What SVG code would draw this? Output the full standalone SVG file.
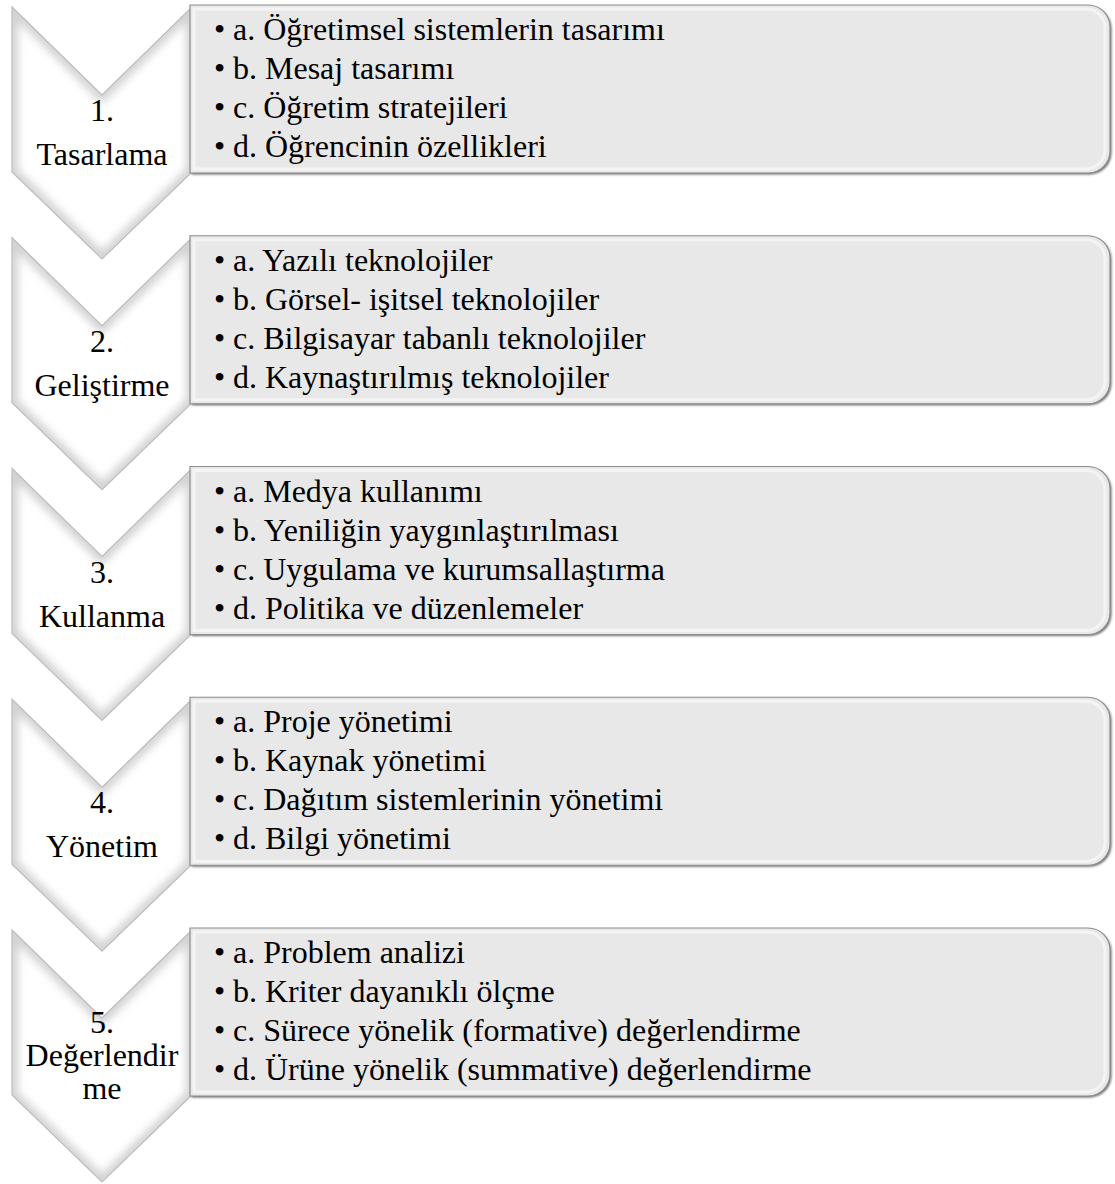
<svg xmlns="http://www.w3.org/2000/svg" width="1115" height="1184" viewBox="0 0 1115 1184">
  <style>
    .lbl { font-family: "Liberation Serif", "Times New Roman", serif; font-size: 32px; fill: #000; text-anchor: middle; }
    .item { font-family: "Liberation Serif", "Times New Roman", serif; font-size: 32px; fill: #000; }
    .chev { fill: #ffffff; }
    .chevEdge { fill: none; stroke: #bdbdbd; stroke-width: 1.2; }
    .chevShade { fill: none; stroke: #d2d2d2; stroke-width: 12; filter: url(#blur4); }
    .boxShadow { fill: #6f6f6f; filter: url(#blur1); }
    .box { fill: #e8e8e8; stroke: #8e8e8e; stroke-width: 1.2; }
    .boxHi { fill: none; stroke: #f4f4f4; stroke-width: 3; }
  </style>
  <defs>
    <filter id="blur4" x="-20%" y="-20%" width="140%" height="140%">
      <feGaussianBlur stdDeviation="4"/>
    </filter>
    <filter id="blur1" x="-5%" y="-10%" width="110%" height="120%">
      <feGaussianBlur stdDeviation="1.2"/>
    </filter>
    <polygon id="chevShape" points="12,7 102,95 192,7 192,172 102,259 12,172"/>
    <clipPath id="chevClip">
      <polygon points="12,7 102,95 192,7 192,172 102,259 12,172"/>
    </clipPath>
    <path id="boxShape" d="M190,5 H1088 A22,22 0 0 1 1110,27 V151 A22,22 0 0 1 1088,173 H190 Z"/>
    <path id="boxInner" d="M194,9 H1086 A19,19 0 0 1 1105,28 V150 A19,19 0 0 1 1086,169 H194 Z"/>
    <g id="chevron">
      <use href="#chevShape" class="chev"/>
      <g clip-path="url(#chevClip)">
        <use href="#chevShape" class="chevShade"/>
      </g>
      <use href="#chevShape" class="chevEdge"/>
    </g>
    <g id="box">
      <use href="#boxShape" class="boxShadow" transform="translate(1.5,1.5)"/>
      <use href="#boxShape" class="box"/>
      <use href="#boxInner" class="boxHi"/>
    </g>
  </defs>

  <g id="connectors"></g>

  <g id="step1" transform="translate(0,0)">
    <use href="#chevron"/>
    <text class="lbl" x="102" y="121">1.</text>
    <text class="lbl" x="102" y="165">Tasarlama</text>
    <use href="#box"/>
    <text class="item" x="214" y="40">•</text><text class="item" x="233" y="40">a. Öğretimsel sistemlerin tasarımı</text>
    <text class="item" x="214" y="79">•</text><text class="item" x="233" y="79">b. Mesaj tasarımı</text>
    <text class="item" x="214" y="118">•</text><text class="item" x="233" y="118">c. Öğretim stratejileri</text>
    <text class="item" x="214" y="157">•</text><text class="item" x="233" y="157">d. Öğrencinin özellikleri</text>
  </g>

  <g id="step2" transform="translate(0,230.75)">
    <use href="#chevron"/>
    <text class="lbl" x="102" y="121">2.</text>
    <text class="lbl" x="102" y="165">Geliştirme</text>
    <use href="#box"/>
    <text class="item" x="214" y="40">•</text><text class="item" x="233" y="40">a. Yazılı teknolojiler</text>
    <text class="item" x="214" y="79">•</text><text class="item" x="233" y="79">b. Görsel- işitsel teknolojiler</text>
    <text class="item" x="214" y="118">•</text><text class="item" x="233" y="118">c. Bilgisayar tabanlı teknolojiler</text>
    <text class="item" x="214" y="157">•</text><text class="item" x="233" y="157">d. Kaynaştırılmış teknolojiler</text>
  </g>

  <g id="step3" transform="translate(0,461.5)">
    <use href="#chevron"/>
    <text class="lbl" x="102" y="121">3.</text>
    <text class="lbl" x="102" y="165">Kullanma</text>
    <use href="#box"/>
    <text class="item" x="214" y="40">•</text><text class="item" x="233" y="40">a. Medya kullanımı</text>
    <text class="item" x="214" y="79">•</text><text class="item" x="233" y="79">b. Yeniliğin yaygınlaştırılması</text>
    <text class="item" x="214" y="118">•</text><text class="item" x="233" y="118">c. Uygulama ve kurumsallaştırma</text>
    <text class="item" x="214" y="157">•</text><text class="item" x="233" y="157">d. Politika ve düzenlemeler</text>
  </g>

  <g id="step4" transform="translate(0,692.25)">
    <use href="#chevron"/>
    <text class="lbl" x="102" y="121">4.</text>
    <text class="lbl" x="102" y="165">Yönetim</text>
    <use href="#box"/>
    <text class="item" x="214" y="40">•</text><text class="item" x="233" y="40">a. Proje yönetimi</text>
    <text class="item" x="214" y="79">•</text><text class="item" x="233" y="79">b. Kaynak yönetimi</text>
    <text class="item" x="214" y="118">•</text><text class="item" x="233" y="118">c. Dağıtım sistemlerinin yönetimi</text>
    <text class="item" x="214" y="157">•</text><text class="item" x="233" y="157">d. Bilgi yönetimi</text>
  </g>

  <g id="step5" transform="translate(0,923)">
    <use href="#chevron"/>
    <text class="lbl" x="102" y="110">5.</text>
    <text class="lbl" x="102" y="143">Değerlendir</text>
    <text class="lbl" x="102" y="176">me</text>
    <use href="#box"/>
    <text class="item" x="214" y="40">•</text><text class="item" x="233" y="40">a. Problem analizi</text>
    <text class="item" x="214" y="79">•</text><text class="item" x="233" y="79">b. Kriter dayanıklı ölçme</text>
    <text class="item" x="214" y="118">•</text><text class="item" x="233" y="118">c. Sürece yönelik (formative) değerlendirme</text>
    <text class="item" x="214" y="157">•</text><text class="item" x="233" y="157">d. Ürüne yönelik (summative) değerlendirme</text>
  </g>
</svg>
